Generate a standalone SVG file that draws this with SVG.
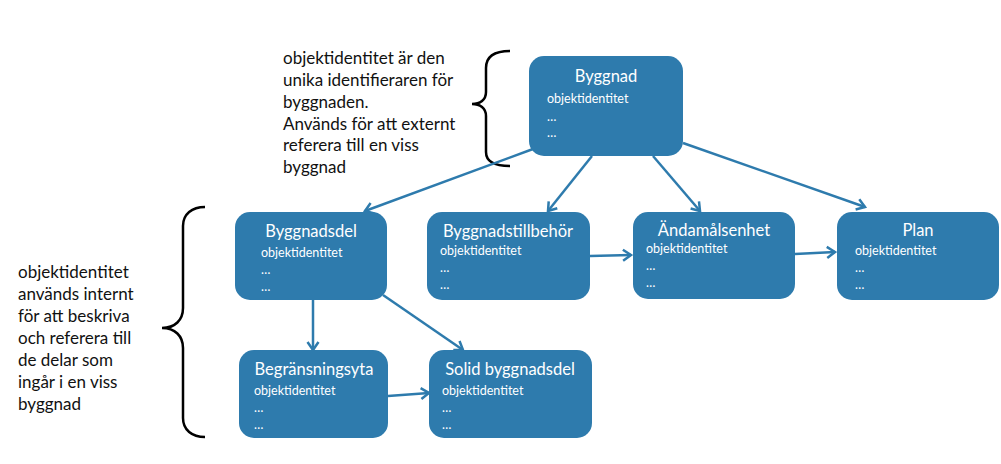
<svg xmlns="http://www.w3.org/2000/svg" width="1001" height="464" viewBox="0 0 1001 464">
<style>
.box{fill:#2e7bad;}
.title{font-family:Lato,"Liberation Sans",sans-serif;font-size:16.5px;fill:#ffffff;text-anchor:middle;}
.attr{font-family:Lato,"Liberation Sans",sans-serif;font-size:12.5px;fill:#ffffff;}
.note{font-family:Lato,"Liberation Sans",sans-serif;font-size:17px;fill:#111111;}
.conn{stroke:#2e7bad;stroke-width:2.5;fill:none;marker-end:url(#arr);}
.brace{stroke:#000000;stroke-width:2.5;fill:none;}
</style>
<defs>
<marker id="arr" markerUnits="userSpaceOnUse" markerWidth="14" markerHeight="14" viewBox="0 0 14 14" refX="11" refY="7" orient="auto">
<path d="M3,1.5 L11,7 L3,12.5" stroke="#2e7bad" stroke-width="2.5" fill="none"/>
</marker>
</defs>
<rect width="1001" height="464" fill="#ffffff"/>

<g id="notes">
<text class="note" x="283" y="64">objektidentitet är den</text>
<text class="note" x="283" y="86">unika identifieraren för</text>
<text class="note" x="283" y="108">byggnaden.</text>
<text class="note" x="283" y="130">Används för att externt</text>
<text class="note" x="283" y="151">referera till en viss</text>
<text class="note" x="283" y="173">byggnad</text>
<path class="brace" d="M510,51 C495,51 486,56 486,68 L486,92 C486,100 480,104 472,104 C480,104 486,108 486,116 L486,152 C486,162 495,166 510,166"/>
<text class="note" x="18" y="278">objektidentitet</text>
<text class="note" x="18" y="300">används internt</text>
<text class="note" x="18" y="322">för att beskriva</text>
<text class="note" x="18" y="344">och referera till</text>
<text class="note" x="18" y="366">de delar som</text>
<text class="note" x="18" y="388">ingår i en viss</text>
<text class="note" x="18" y="410">byggnad</text>
<path class="brace" d="M205,207 C192,207 183,214 183,226 L183,308 C183,320 175,328 162,328 C175,328 183,336 183,348 L183,418 C183,430 192,437 205,437"/>
</g>

<g id="connectors">
<line class="conn" x1="533" y1="149" x2="365" y2="211"/>
<line class="conn" x1="592" y1="156" x2="548" y2="211"/>
<line class="conn" x1="653" y1="156" x2="700" y2="211"/>
<line class="conn" x1="683" y1="143" x2="865" y2="207"/>
<line class="conn" x1="590" y1="256" x2="631" y2="255"/>
<line class="conn" x1="795" y1="254" x2="835" y2="252"/>
<line class="conn" x1="313" y1="300" x2="313" y2="350"/>
<line class="conn" x1="383" y1="295" x2="463" y2="350"/>
<line class="conn" x1="388" y1="396" x2="429" y2="393"/>
</g>

<g id="byggnad">
<rect class="box" x="529" y="56" width="154" height="100" rx="15"/>
<text class="title" x="606" y="82">Byggnad</text>
<text class="attr" x="547" y="103">objektidentitet</text>
<text class="attr" x="547" y="121">…</text>
<text class="attr" x="547" y="137">…</text>
</g>

<g id="byggnadsdel">
<rect class="box" x="235" y="212" width="152" height="88" rx="15"/>
<text class="title" x="311" y="237">Byggnadsdel</text>
<text class="attr" x="261" y="257">objektidentitet</text>
<text class="attr" x="261" y="274">…</text>
<text class="attr" x="261" y="291">…</text>
</g>

<g id="byggnadstillbehor">
<rect class="box" x="427" y="212" width="163" height="88" rx="15"/>
<text class="title" x="508" y="237">Byggnadstillbehör</text>
<text class="attr" x="440" y="255">objektidentitet</text>
<text class="attr" x="440" y="272">…</text>
<text class="attr" x="440" y="289">…</text>
</g>

<g id="andamalsenhet">
<rect class="box" x="633" y="212" width="162" height="87" rx="15"/>
<text class="title" x="714" y="236">Ändamålsenhet</text>
<text class="attr" x="646" y="253">objektidentitet</text>
<text class="attr" x="646" y="270">…</text>
<text class="attr" x="646" y="287">…</text>
</g>

<g id="plan">
<rect class="box" x="837" y="212" width="162" height="88" rx="15"/>
<text class="title" x="918" y="236">Plan</text>
<text class="attr" x="855" y="255">objektidentitet</text>
<text class="attr" x="855" y="272">…</text>
<text class="attr" x="855" y="289">…</text>
</g>

<g id="begransningsyta">
<rect class="box" x="239" y="350" width="149" height="88" rx="15"/>
<text class="title" x="314" y="375">Begränsningsyta</text>
<text class="attr" x="254" y="395">objektidentitet</text>
<text class="attr" x="254" y="412">…</text>
<text class="attr" x="254" y="429">…</text>
</g>

<g id="solid-byggnadsdel">
<rect class="box" x="429" y="350" width="163" height="88" rx="15"/>
<text class="title" x="510" y="375">Solid byggnadsdel</text>
<text class="attr" x="442" y="395">objektidentitet</text>
<text class="attr" x="442" y="412">…</text>
<text class="attr" x="442" y="429">…</text>
</g>
</svg>
